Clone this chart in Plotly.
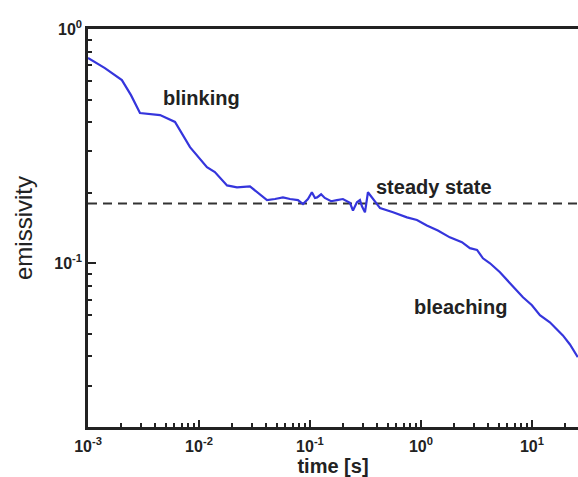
import math
import plotly.graph_objects as go

# emission trace
time_s = [1.0e-3, 1.42e-3, 2.02e-3, 2.44e-3, 2.94e-3, 4.46e-3, 6.08e-3, 8.30e-3,
          0.0118, 0.0139, 0.0179, 0.0220, 0.0288, 0.0340, 0.0410, 0.0484, 0.0571,
          0.0661, 0.0780, 0.0865, 0.0959, 0.104, 0.111, 0.116, 0.126, 0.136, 0.155,
          0.175, 0.198, 0.229, 0.244, 0.265, 0.282, 0.294, 0.313, 0.333, 0.378,
          0.428, 0.560, 0.748, 0.920, 1.13, 1.42, 1.82, 2.34, 2.76, 3.20, 3.62,
          4.19, 5.15, 6.34, 8.30, 10.0, 11.8, 14.5, 19.0, 22.0, 25.9]
emissivity = [0.752, 0.681, 0.605, 0.522, 0.438, 0.429, 0.401, 0.313,
              0.257, 0.245, 0.215, 0.211, 0.213, 0.199, 0.186, 0.188, 0.191,
              0.188, 0.186, 0.179, 0.188, 0.201, 0.190, 0.191, 0.197, 0.190, 0.184,
              0.186, 0.188, 0.181, 0.168, 0.182, 0.186, 0.175, 0.165, 0.201, 0.186,
              0.172, 0.165, 0.157, 0.153, 0.145, 0.138, 0.129, 0.123, 0.116, 0.114, 0.105,
              0.100, 0.0916, 0.0822, 0.0716, 0.0662, 0.0600, 0.0560, 0.0492, 0.0450, 0.0397]

steady_level = 0.18
x_limits = [1e-3, 26]
x_tickvals = [1e-3, 1e-2, 1e-1, 1e0, 1e1]
x_ticktext = ["10<sup>-3</sup>", "10<sup>-2</sup>", "10<sup>-1</sup>", "10<sup>0</sup>", "10<sup>1</sup>"]
y_tickvals = [1e-1, 1e0]
y_ticktext = ["10<sup>-1</sup>", "10<sup>0</sup>"]
x_minor = [m * 10.0 ** e for e in range(-3, 2) for m in range(2, 10)]
y_minor = [m * 10.0 ** e for e in range(-2, 0) for m in range(2, 10)]

labels = ["blinking", "steady state", "bleaching"]
label_time = [0.0106, 1.30, 2.25]
label_emis = [0.507, 0.211, 0.0649]

fig = go.Figure()
fig.add_trace(go.Scatter(x=x_limits, y=[steady_level, steady_level], mode="lines",
                         line=dict(color="#333333", width=2, dash="9px,6px"),
                         showlegend=False, hoverinfo="skip"))
fig.add_trace(go.Scatter(x=time_s, y=emissivity, mode="lines",
                         line=dict(color="#3535dc", width=2.2),
                         showlegend=False))

for text, xv, yv in zip(labels, label_time, label_emis):
    fig.add_annotation(x=math.log10(xv), y=math.log10(yv), text=text, showarrow=False,
                       xref="x", yref="y",
                       font=dict(family="Liberation Sans", size=20, color="#222222", weight="bold"))

fig.update_layout(
    width=578, height=477,
    margin=dict(l=88, r=0, t=29, b=50),
    paper_bgcolor="white", plot_bgcolor="white",
    font=dict(family="Liberation Sans", color="#222222"),
)
fig.update_xaxes(
    type="log", range=[-3, 1.415], showgrid=False, zeroline=False,
    showline=True, linecolor="#222222", linewidth=2.5, mirror=True,
    tickmode="array", tickvals=x_tickvals, ticktext=x_ticktext,
    ticks="inside", ticklen=7, tickwidth=1.5, tickcolor="#222222",
    ticklabelstandoff=3,
    tickfont=dict(size=16, weight="bold", color="#222222"),
    minor=dict(tickmode="array", tickvals=x_minor, ticks="inside", ticklen=4,
               tickwidth=1.5, tickcolor="#222222", showgrid=False),
    title=dict(text="time [s]", font=dict(size=20, weight="bold"), standoff=0),
)
fig.update_yaxes(
    type="log", range=[-1.699, 0], showgrid=False, zeroline=False,
    showline=True, linecolor="#222222", linewidth=2.5, mirror=False,
    tickmode="array", tickvals=y_tickvals, ticktext=y_ticktext,
    ticks="inside", ticklen=8, tickwidth=1.5, tickcolor="#222222",
    tickfont=dict(size=16, weight="bold", color="#222222"),
    minor=dict(tickmode="array", tickvals=y_minor, ticks="inside", ticklen=4,
               tickwidth=1.5, tickcolor="#222222", showgrid=False),
    title=dict(text="emissivity", font=dict(size=24), standoff=15),
)

fig.write_html("out.html")
